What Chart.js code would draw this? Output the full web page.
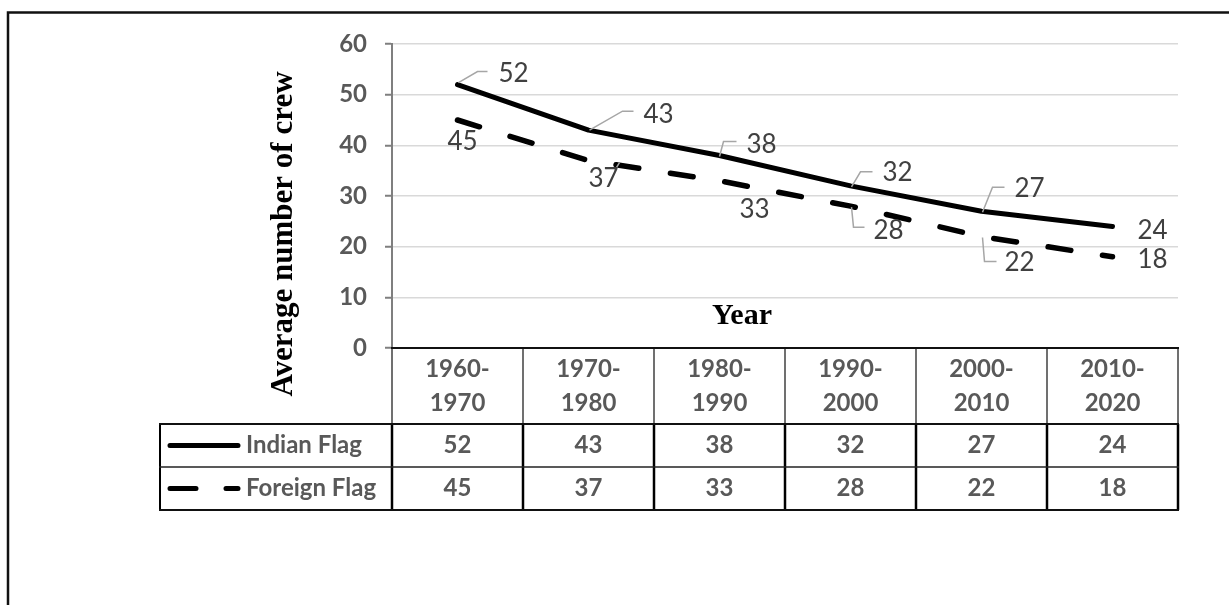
<!DOCTYPE html>
<html>
<head>
<meta charset="utf-8">
<script src="https://cdn.jsdelivr.net/npm/chart.js@4.4.1/dist/chart.umd.min.js"></script>
<style>
  html, body { margin: 0; padding: 0; background: #fff; }
  canvas { display: block; }
</style>
</head>
<body>
<canvas id="myChart" width="1229" height="605"></canvas>
<script>
// chart data
const periods = ["1960-1970", "1970-1980", "1980-1990", "1990-2000", "2000-2010", "2010-2020"];
const seriesNames = ["Indian Flag", "Foreign Flag"];
const indianFlag = [52, 43, 38, 32, 27, 24];
const foreignFlag = [45, 37, 33, 28, 22, 18];
const yMin = 0;
const yMax = 60;
const yStep = 10;
const yTitle = "Average number of crew";
const xTitle = "Year";

// where each data label sits relative to its point (+ optional leader line)
const labelPlacement = [
  [
    { dx: 56, dy: -11, leader: [[1, -2], [20, -13], [30, -13]] },
    { dx: 70, dy: -16, leader: [[1, 0], [34, -19], [45, -19]] },
    { dx: 42, dy: -11, leader: [[0, 1], [4, -14], [17, -14]] },
    { dx: 47, dy: -13, leader: [[1, 1], [10, -14], [22, -14]] },
    { dx: 48, dy: -23, leader: [[1, 1], [11, -24], [23, -24]] },
    { dx: 40, dy: 4 },
  ],
  [
    { dx: 5, dy: 22 },
    { dx: 15, dy: 18, leader: [[31, 2], [26, 10]] },
    { dx: 35, dy: 29 },
    { dx: 38, dy: 24, leader: [[1, 1], [3, 21], [14, 21]] },
    { dx: 38, dy: 26, leader: [[1, 1], [3, 25], [15, 25]] },
    { dx: 40, dy: 3 },
  ],
];

const GRAY_TEXT = "#595959";
const BOLD_FONT = "bold 24px Lato";

const extrasPlugin = {
  id: "extras",
  afterDraw(chart) {
    const ctx = chart.ctx;
    const area = chart.chartArea;
    const xs = chart.scales.x;
    const colW = (area.right - area.left) / periods.length;
    const tableLeft = 160;
    const top = area.bottom;
    const hdrBottom = top + 76;
    const row1Bottom = hdrBottom + 43;
    const row2Bottom = row1Bottom + 43;

    ctx.save();

    // data labels
    ctx.font = "26px Lato";
    ctx.fillStyle = "#404040";
    ctx.textAlign = "center";
    ctx.textBaseline = "middle";
    [indianFlag, foreignFlag].forEach((vals, s) => {
      const meta = chart.getDatasetMeta(s);
      vals.forEach((v, i) => {
        const pt = meta.data[i];
        const p = labelPlacement[s][i];
        if (p.leader) {
          ctx.beginPath();
          ctx.strokeStyle = "#a6a6a6";
          ctx.lineWidth = 1.5;
          p.leader.forEach(([lx, ly], k) => {
            if (k === 0) ctx.moveTo(pt.x + lx, pt.y + ly);
            else ctx.lineTo(pt.x + lx, pt.y + ly);
          });
          ctx.stroke();
        }
        ctx.fillText(String(v), pt.x + p.dx, pt.y + p.dy);
      });
    });

    // axis titles
    ctx.fillStyle = "#000";
    ctx.font = 'bold 30px "Liberation Serif"';
    ctx.fillText(xTitle, 742, 316);
    ctx.save();
    ctx.translate(284, 234);
    ctx.rotate(-Math.PI / 2);
    ctx.font = 'bold 31px "Liberation Serif"';
    ctx.fillText(yTitle, 0, 0);
    ctx.restore();

    // data table: header text
    ctx.font = BOLD_FONT;
    ctx.fillStyle = GRAY_TEXT;
    periods.forEach((p, i) => {
      const cx = xs.getPixelForValue(i);
      const parts = p.split("-");
      ctx.fillText(parts[0] + "-", cx, top + 21);
      ctx.fillText(parts[1], cx, top + 55);
    });

    // data table: values
    const rowMid = [(hdrBottom + row1Bottom) / 2, (row1Bottom + row2Bottom) / 2];
    [indianFlag, foreignFlag].forEach((vals, s) => {
      vals.forEach((v, i) => {
        ctx.fillText(String(v), xs.getPixelForValue(i), rowMid[s]);
      });
    });

    // legend keys + names
    ctx.textAlign = "left";
    seriesNames.forEach((n, s) => ctx.fillText(n, 246, rowMid[s]));
    ctx.strokeStyle = "#000";
    ctx.lineWidth = 5;
    ctx.lineCap = "round";
    ctx.beginPath();
    ctx.moveTo(170, rowMid[0]);
    ctx.lineTo(238, rowMid[0]);
    ctx.moveTo(170, rowMid[1]);
    ctx.lineTo(196, rowMid[1]);
    ctx.moveTo(226, rowMid[1]);
    ctx.lineTo(238, rowMid[1]);
    ctx.stroke();
    ctx.lineCap = "butt";

    // table grid lines
    const hline = (x1, x2, y, w, c) => {
      ctx.beginPath(); ctx.strokeStyle = c; ctx.lineWidth = w;
      ctx.moveTo(x1, y); ctx.lineTo(x2, y); ctx.stroke();
    };
    const vline = (x, y1, y2, w, c) => {
      ctx.beginPath(); ctx.strokeStyle = c; ctx.lineWidth = w;
      ctx.moveTo(x, y1); ctx.lineTo(x, y2); ctx.stroke();
    };
    for (let i = 0; i <= periods.length; i++) {
      const x = area.left + i * colW;
      vline(x, top, hdrBottom, 1.5, "#404040");
      vline(x, hdrBottom, row2Bottom, 2.5, "#000");
    }
    vline(tableLeft, hdrBottom, row2Bottom, 2, "#000");
    hline(area.left - 1, area.right + 1, top, 2, "#111");
    hline(tableLeft - 1, area.right + 1, hdrBottom, 2, "#111");
    hline(tableLeft - 1, area.right + 1, row1Bottom, 1.5, "#222");
    hline(tableLeft - 1, area.right + 1, row2Bottom, 2, "#111");

    // outer frame
    ctx.strokeStyle = "#111";
    ctx.lineWidth = 2.5;
    ctx.strokeRect(8, 12.5, 1400, 800);

    ctx.restore();
  },
};

const ctx = document.getElementById("myChart").getContext("2d");
const myChart = new Chart(ctx, {
  type: "line",
  data: {
    labels: periods,
    datasets: [
      {
        label: seriesNames[0],
        data: indianFlag,
        borderColor: "#000",
        borderWidth: 5,
        borderCapStyle: "round",
        borderJoinStyle: "round",
        pointRadius: 0,
        tension: 0,
      },
      {
        label: seriesNames[1],
        data: foreignFlag,
        borderColor: "#000",
        borderWidth: 5.5,
        borderDash: [23, 32],
        borderCapStyle: "round",
        borderJoinStyle: "round",
        pointRadius: 0,
        tension: 0,
      },
    ],
  },
  options: {
    responsive: false,
    animation: false,
    devicePixelRatio: 1,
    layout: { padding: { left: 0, top: 44, right: 51, bottom: 257 } },
    plugins: {
      legend: { display: false },
      tooltip: { enabled: false },
    },
    scales: {
      x: {
        type: "category",
        offset: true,
        display: false,
      },
      y: {
        min: yMin,
        max: yMax,
        afterFit: (scale) => { scale.width = 392; },
        ticks: {
          stepSize: yStep,
          padding: 18,
          color: GRAY_TEXT,
          font: { family: "Lato", size: 24, weight: "bold" },
        },
        grid: {
          color: "#d9d9d9",
          lineWidth: 1.5,
          tickLength: 7,
          tickColor: "#7f7f7f",
          tickWidth: 2,
        },
        border: { color: "#7f7f7f", width: 2 },
      },
    },
  },
  plugins: [extrasPlugin],
});
</script>
</body>
</html>
